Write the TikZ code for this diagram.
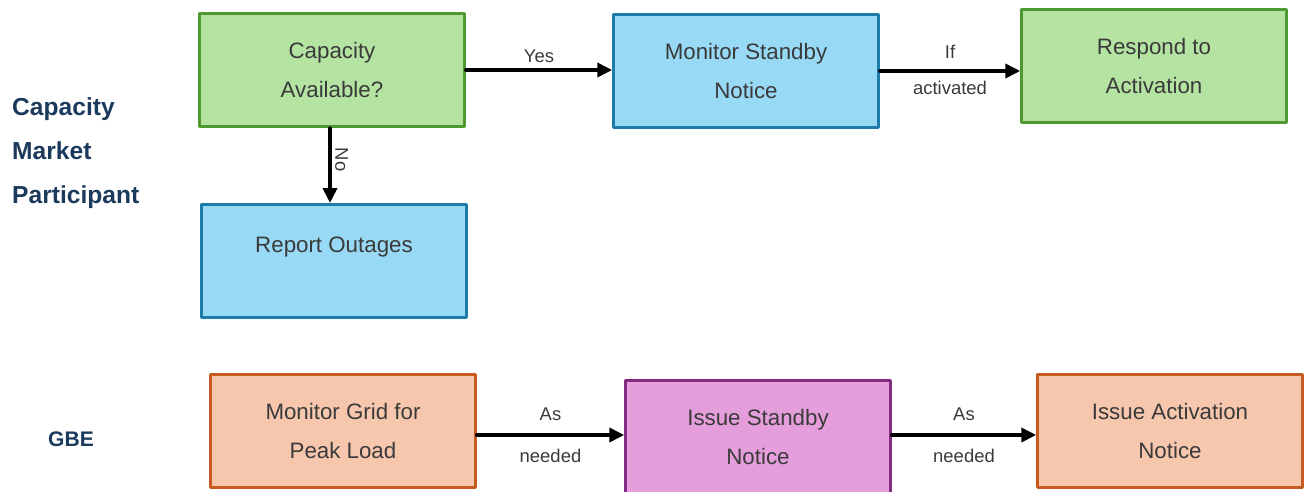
\documentclass[tikz,border=0pt]{standalone}
\usepackage{fontspec}
\setmainfont{Liberation Sans}
\usetikzlibrary{arrows.meta}
\definecolor{grnfill}{HTML}{B4E3A2}
\definecolor{grnline}{HTML}{4F9A30}
\definecolor{blufill}{HTML}{98D9F5}
\definecolor{bluline}{HTML}{1D7CA8}
\definecolor{orgfill}{HTML}{F6C6AD}
\definecolor{orgline}{HTML}{C75A1E}
\definecolor{pnkfill}{HTML}{E59EDB}
\definecolor{pnkline}{HTML}{842B83}
\definecolor{boxtext}{HTML}{3A3A3A}
\definecolor{roletext}{HTML}{1B3A5C}
\begin{document}
\begin{tikzpicture}[x=0.02cm, y=-0.02cm, line cap=round, line join=round, >={Triangle[length=8.5pt,width=8pt]},
  proc/.style={draw, line width=1.5pt, minimum width=5.3cm, minimum height=2.27cm, align=center,
    text=boxtext, font=\fontsize{12.7}{22}\selectfont},
  procgreen/.style={proc, fill=grnfill, draw=grnline},
  procblue/.style={proc, fill=blufill, draw=bluline},
  procorange/.style={proc, fill=orgfill, draw=orgline},
  procpink/.style={proc, fill=pnkfill, draw=pnkline},
  flow/.style={->, line width=2pt},
  lbl/.style={text=boxtext, font=\fontsize{10.5}{12}\selectfont, inner sep=2pt},
  role/.style={text=roletext, font=\fontsize{14}{25}\selectfont\bfseries, align=left}]
  \useasboundingbox (0,0) rectangle (1309,491);
  % participant row
  \node[procgreen] (avail) at (332,70) {Capacity\\Available?};
  \node[procblue, text depth=18.5pt] (outage) at (334,261) {Report Outages};
  \node[procblue] (standby) at (746,71) {Monitor Standby\\Notice};
  \node[procgreen] (respond) at (1154,66) {Respond to\\Activation};
  % GBE row
  \node[procorange] (grid) at (343,431) {Monitor Grid for\\Peak Load};
  \node[procpink] (issue) at (758,437) {Issue Standby\\Notice};
  \node[procorange] (activ) at (1170,431) {Issue Activation\\Notice};
  % roles
  \node[role, anchor=west] (cmp) at (6,153) {Capacity\\Market\\Participant};
  \node[role, font=\fontsize{12}{14}\selectfont\bfseries] (gbe) at (71,439) {GBE};
  % connectors
  \draw[flow] (avail.east) -- (avail.east -| standby.west)
    node[midway, lbl, above=1pt] {Yes};
  \draw[flow] (standby.east) -- (standby.east -| respond.west)
    node[midway, lbl, above=4pt] {If}
    node[midway, lbl, below=3pt] {activated};
  \draw[flow] (avail.south -| 330,0) -- (outage.north -| 330,0)
    node[pos=0.42, lbl, anchor=south, rotate=-90] {No};
  \draw[flow] (grid.east |- 0,435) -- (issue.west |- 0,435)
    node[midway, lbl, above=5pt] {As}
    node[midway, lbl, below=5pt] {needed};
  \draw[flow] (issue.east |- 0,435) -- (activ.west |- 0,435)
    node[midway, lbl, above=5pt] {As}
    node[midway, lbl, below=5pt] {needed};
\end{tikzpicture}
\end{document}
